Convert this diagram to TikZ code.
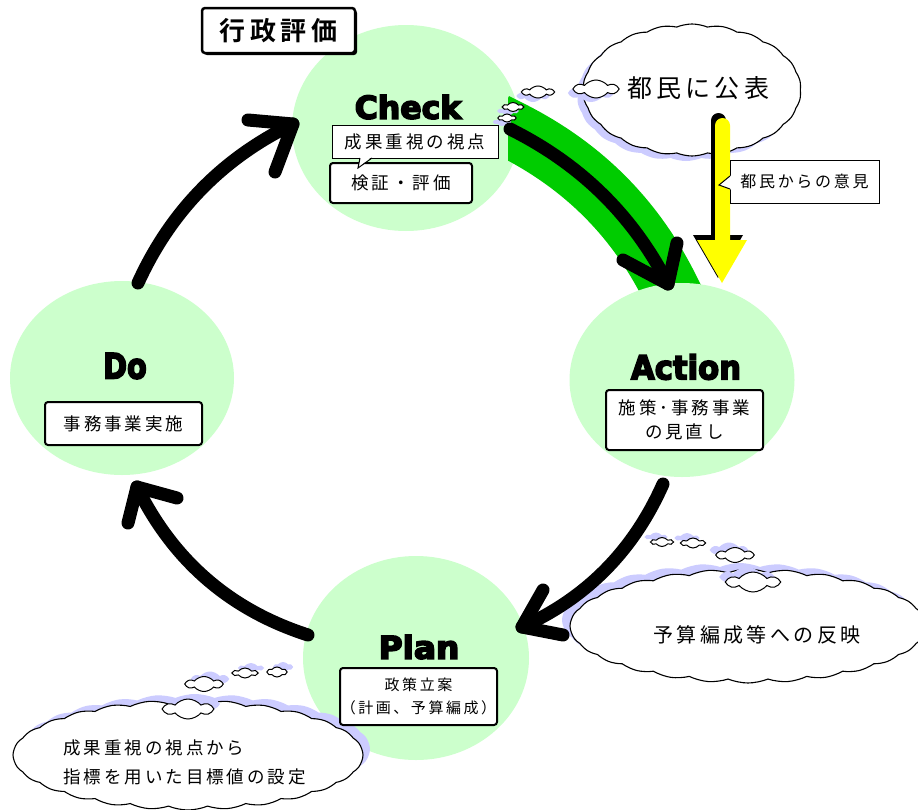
\documentclass[tikz,border=0pt]{standalone}
\usepackage{fontspec}
\usetikzlibrary{shapes.geometric,shapes.symbols}
\newfontfamily\jp[LetterSpace=17,BoldFont={Noto Sans CJK JP Bold}]{Noto Sans CJK JP}
\newfontfamily\heavy[BoldFont={DejaVu Sans Bold},BoldFeatures={FakeBold=5}]{DejaVu Sans}
\definecolor{disc}{RGB}{204,255,204}
\definecolor{bandgreen}{RGB}{0,204,0}
\definecolor{haze}{RGB}{204,204,255}
\definecolor{sun}{RGB}{255,255,0}
\newcommand\jpsize[1]{\jp\fontsize{#1}{#1}\selectfont}
\newcommand\heavysize[1]{\heavy\bfseries\fontsize{#1}{#1}\selectfont}
% outline of the yellow feedback arrow
\newcommand\sunshape{(715,240) -- (715,125.5) arc[start angle=180, end angle=360, radius=7.5]
  -- (730,240) -- (747,240) -- (722,283) -- (697,240) -- cycle}

\begin{document}
\begin{tikzpicture}[x=1pt,y=-1pt,
  phase/.style={ellipse, fill=disc, inner sep=0pt},
  phasename/.style={inner sep=0pt},
  roundbox/.style={draw, line width=2pt, rounded corners=3pt, fill=white, inner sep=0pt, align=center, font=\jpsize{17.5}},
  plainbox/.style={draw, line width=1pt, fill=white, inner sep=0pt, align=center, font=\jpsize{17.5}},
  flow/.style={line width=13pt, line cap=round, line join=round},
  puff/.style={cloud, cloud puffs=#1, cloud puff arc=45, inner sep=0pt},
  bubble/.style={puff=#1, draw, line width=1.1pt, fill=white},
  shade/.style={puff=#1, fill=haze},
  pebble/.style={cloud, cloud puffs=6, cloud puff arc=100, inner sep=0pt, draw, line width=1pt, fill=white},
  pebbleshade/.style={cloud, cloud puffs=6, cloud puff arc=100, inner sep=0pt, fill=haze},
]
\useasboundingbox (0,0) rectangle (918,809);
\fill[white] (0,0) rectangle (918,809);

% the four phases of the cycle
\node[phase, minimum width=228pt, minimum height=206pt] (check) at (406,128) {};
\node[phase, minimum width=224pt, minimum height=194pt] (do) at (122,378) {};
\node[phase, minimum width=226pt, minimum height=204pt] (plan) at (416,658) {};

% arrow geometry
\coordinate (a1s) at (138,283); \coordinate (a1c1) at (170.6,211.3);
\coordinate (a1c2) at (222.3,158.3); \coordinate (a1e) at (293,124);
\coordinate (a1l) at (248,120); \coordinate (a1r) at (275,172);
\coordinate (a2s) at (510,129); \coordinate (a2c1) at (580.9,164.3);
\coordinate (a2c2) at (632.9,215.6); \coordinate (a2e) at (668,284);
\coordinate (a2l) at (623,260); \coordinate (a2r) at (677,243);
\coordinate (bandA) at (496,122); \coordinate (bandB) at (677,302);
\coordinate (a3s) at (663,484); \coordinate (a3c1) at (633.6,550.3);
\coordinate (a3c2) at (586.9,597.7); \coordinate (a3e) at (522,627);
\coordinate (a3l) at (543,590); \coordinate (a3r) at (563,635);
\coordinate (a4s) at (308,635); \coordinate (a4c1) at (230.1,609.9);
\coordinate (a4c2) at (173.1,560.6); \coordinate (a4e) at (137,487);
\coordinate (a4l) at (128,523); \coordinate (a4r) at (177,498);

% green highlight under the Check -> Action arrow
\begin{scope}
  \clip (508,60) rectangle (800,295);
  \draw[bandgreen, line width=58pt] (bandA) -- (a2s) .. controls (a2c1) and (a2c2) .. (a2e) -- (bandB);
\end{scope}

\node[phase, minimum width=225pt, minimum height=194pt] (act) at (682,380) {};

% thought clouds with their soft shadows
\node[shade=22, minimum width=218pt, minimum height=132pt] at (686,95) {};
\node[bubble=22, minimum width=218pt, minimum height=132pt] (pub) at (692,90) {};
\foreach \x/\y/\w/\h [count=\i] in {596/89/42/18, 538/92/30/12, 513/107/20/9, 507/118/17/8} {
  \node[pebbleshade, minimum width=\w pt, minimum height=\h pt] at (\x-5,\y+4) {};
  \node[pebble, minimum width=\w pt, minimum height=\h pt] (pubd\i) at (\x,\y) {};
}
\node[shade=28, minimum width=356pt, minimum height=114pt] at (740,620) {};
\node[bubble=28, minimum width=356pt, minimum height=114pt] (bud) at (748,626) {};
\foreach \x/\y/\w/\h [count=\i] in {662/542/21/9, 693/543/23/10, 735/555/35/15, 753/582/50/20} {
  \node[pebbleshade, minimum width=\w pt, minimum height=\h pt] at (\x-6,\y-5) {};
  \node[pebble, minimum width=\w pt, minimum height=\h pt] (budd\i) at (\x,\y) {};
}
\node[shade=28, minimum width=350pt, minimum height=110pt] at (195,749) {};
\node[bubble=28, minimum width=350pt, minimum height=110pt] (goal) at (188,755) {};
\foreach \x/\y/\w/\h [count=\i] in {277/672/19/10, 245/673/24/10, 204/684/35/15, 188/709/47/20} {
  \node[pebbleshade, minimum width=\w pt, minimum height=\h pt] at (\x+6,\y-5) {};
  \node[pebble, minimum width=\w pt, minimum height=\h pt] (goald\i) at (\x,\y) {};
}

% the cycle arrows
\draw[flow] (a1s) .. controls (a1c1) and (a1c2) .. (a1e);
\draw[flow] (a1l) -- (a1e) -- (a1r);
\draw[flow] (a2s) .. controls (a2c1) and (a2c2) .. (a2e);
\draw[flow] (a2l) -- (a2e) -- (a2r);
\draw[flow] (a3s) .. controls (a3c1) and (a3c2) .. (a3e);
\draw[flow] (a3l) -- (a3e) -- (a3r);
\draw[flow] (a4s) .. controls (a4c1) and (a4c2) .. (a4e);
\draw[flow] (a4l) -- (a4e) -- (a4r);

% citizens' feedback arrow
\fill[black, shift={(-4,-5)}] \sunshape;
\fill[sun] \sunshape;

% phase names
\node[phasename, font=\heavysize{31.5}] (checkT) at (408,107) {\scalebox{1.0}[1]{Check}};
\node[phasename, font=\heavysize{33}] (actT) at (686,367) {\scalebox{0.93}[1]{Action}};
\node[phasename, font=\heavysize{35}] (doT) at (125,366) {\scalebox{0.82}[1]{Do}};
\node[phasename, font=\heavysize{31.5}] (planT) at (419,647) {\scalebox{1.04}[1]{Plan}};

% label boxes
\fill[black, rounded corners=3pt] (204,10) rectangle (357,55);
\node[roundbox, line width=2.5pt, minimum width=153pt, minimum height=45pt, font=\jpsize{26}\bfseries] (gyosei) at (278.5,30.5) {行政評価};

\node[roundbox, minimum width=142pt, minimum height=40pt] (kensho) at (401,183) {検証・評価};
\node[plainbox, minimum width=166pt, minimum height=33pt] (shiten) at (415,141.5) {成果重視の視点};
\fill[white] (360.5,157) -- (358,168) -- (371.5,157) -- cycle;
\draw[line width=1pt] (360,158) -- (358,168) -- (372,158);

\node[roundbox, minimum width=157pt, minimum height=60pt] (minaoshi) at (684.5,420) {施策･事務事業\\[6pt]の見直し};
\node[roundbox, minimum width=157pt, minimum height=43pt] (jisshi) at (123.5,423.5) {事務事業実施};
\node[roundbox, minimum width=157pt, minimum height=57pt, font=\jpsize{15}] (ritsuan) at (418.5,696.5) {政策立案\\[8pt]（計画、予算編成）};

\node[plainbox, minimum width=149pt, minimum height=43pt, font=\jpsize{16}] (iken) at (804.5,181.5) {都民からの意見};
\fill[white] (731,175.5) -- (719,185) -- (731,189.5) -- cycle;
\draw[line width=1pt] (730,176) -- (719,185) -- (730,189);

% cloud texts
\node[inner sep=0pt, font=\jpsize{25}] at (698,88) {都民に公表};
\node[inner sep=0pt, font=\jpsize{20}] at (757,635) {予算編成等への反映};
\node[inner sep=0pt, font=\jpsize{17.5}, anchor=west] at (63,748) {成果重視の視点から};
\node[inner sep=0pt, font=\jpsize{17.5}, anchor=west] at (63,777) {指標を用いた目標値の設定};
\end{tikzpicture}
\end{document}
